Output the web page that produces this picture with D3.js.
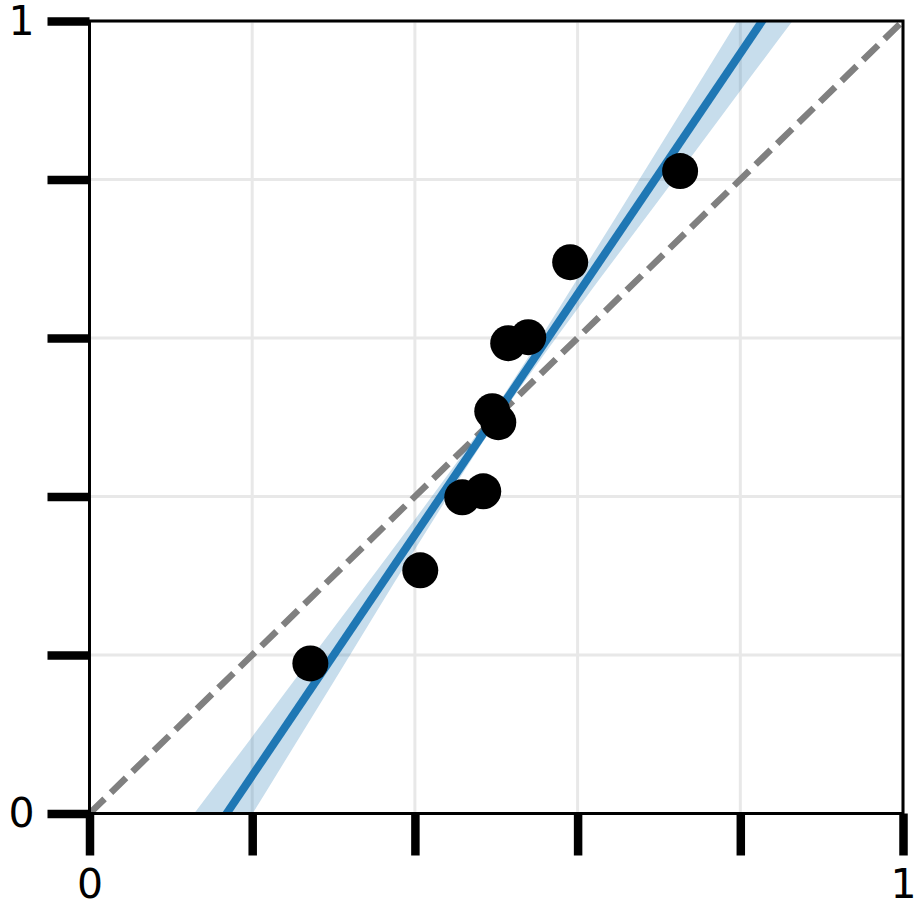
<!DOCTYPE html>
<html>
<head>
<meta charset="utf-8">
<script src="https://cdn.jsdelivr.net/npm/d3@7"></script>
<style>
  html, body { margin: 0; padding: 0; background: #fff; }
  svg { display: block; }
  text { font-family: "DejaVu Sans", sans-serif; }
</style>
</head>
<body>
<div id="chart"></div>
<script>
// ---- data ----
const pointX = [0.2715, 0.4066, 0.4582, 0.4840, 0.4951, 0.5025, 0.5147, 0.5393, 0.5909, 0.7260];
const pointY = [0.1894, 0.3068, 0.3990, 0.4066, 0.5076, 0.4937, 0.5934, 0.6010, 0.6957, 0.8106];

const fitX = [0, 1];
const fitY = [-0.256, 1.263];

const bandX     = [0, 0.1, 0.2, 0.3, 0.4, 0.5, 0.6, 0.7, 0.8, 0.9, 1.0];
const bandLower = [-0.336, -0.169, -0.001, 0.166, 0.333, 0.494, 0.637, 0.774, 0.912, 1.049, 1.186];
const bandUpper = [-0.176, -0.039, 0.097, 0.234, 0.371, 0.514, 0.675, 0.840, 1.006, 1.173, 1.340];

const diagX = [0, 1];
const diagY = [0, 1];

const tickValues = [0, 0.2, 0.4, 0.6, 0.8, 1.0];
const tickLabels = ["0", "", "", "", "", "1"];

// ---- layout ----
const W = 921, H = 916;
const L = 89.5, R = 903, T = 21, B = 813.5;

const svg = d3.select("#chart").append("svg").attr("width", W).attr("height", H);

const x = d3.scaleLinear().domain([0, 1]).range([L, R]);
const y = d3.scaleLinear().domain([0, 1]).range([B, T]);

svg.append("defs").append("clipPath").attr("id", "clip")
  .append("rect").attr("x", L).attr("y", T).attr("width", R - L).attr("height", B - T);

// grid
const grid = svg.append("g");
grid.selectAll("line.gx").data(tickValues).join("line")
  .attr("x1", d => x(d)).attr("x2", d => x(d)).attr("y1", T).attr("y2", B)
  .attr("stroke", "#e8e8e8").attr("stroke-width", 3);
grid.selectAll("line.gy").data(tickValues).join("line")
  .attr("y1", d => y(d)).attr("y2", d => y(d)).attr("x1", L).attr("x2", R)
  .attr("stroke", "#e8e8e8").attr("stroke-width", 3);

const plot = svg.append("g").attr("clip-path", "url(#clip)");

// diagonal
plot.append("path")
  .datum(diagX.map((d, i) => [d, diagY[i]]))
  .attr("d", d3.line().x(d => x(d[0])).y(d => y(d[1])))
  .attr("fill", "none").attr("stroke", "#808080").attr("stroke-width", 6.5)
  .attr("stroke-dasharray", "21,9");

// band
plot.append("path")
  .datum(bandX.map((d, i) => ({x: d, lo: bandLower[i], hi: bandUpper[i]})))
  .attr("d", d3.area().curve(d3.curveCatmullRom)
    .x(d => x(d.x)).y0(d => y(d.lo)).y1(d => y(d.hi)))
  .attr("fill", "#1f77b4").attr("fill-opacity", 0.25);

// fit line
plot.append("path")
  .datum(fitX.map((d, i) => [d, fitY[i]]))
  .attr("d", d3.line().x(d => x(d[0])).y(d => y(d[1])))
  .attr("fill", "none").attr("stroke", "#1f77b4").attr("stroke-width", 8);

// points
svg.append("g").selectAll("circle")
  .data(pointX.map((d, i) => [d, pointY[i]]))
  .join("circle")
  .attr("cx", d => x(d[0])).attr("cy", d => y(d[1])).attr("r", 18)
  .attr("fill", "#000");

// axes
const xAxis = d3.axisBottom(x).tickValues(tickValues)
  .tickSize(42).tickPadding(13).tickFormat((d, i) => tickLabels[i]);
const yAxis = d3.axisLeft(y).tickValues(tickValues)
  .tickSize(42).tickPadding(13).tickFormat((d, i) => tickLabels[i]);

const gx = svg.append("g").attr("transform", `translate(0,${B})`).call(xAxis);
const gy = svg.append("g").attr("transform", `translate(${L},0)`).call(yAxis);
[gx, gy].forEach(g => {
  g.select(".domain").remove();
  g.selectAll(".tick line").attr("stroke", "#000").attr("stroke-width", 8.5);
  g.selectAll(".tick text").attr("fill", "#000").attr("font-size", 41)
    .attr("font-family", "DejaVu Sans, sans-serif");
});

// frame
svg.append("rect").attr("x", L).attr("y", T).attr("width", R - L).attr("height", B - T)
  .attr("fill", "none").attr("stroke", "#000").attr("stroke-width", 3);
</script>
</body>
</html>
